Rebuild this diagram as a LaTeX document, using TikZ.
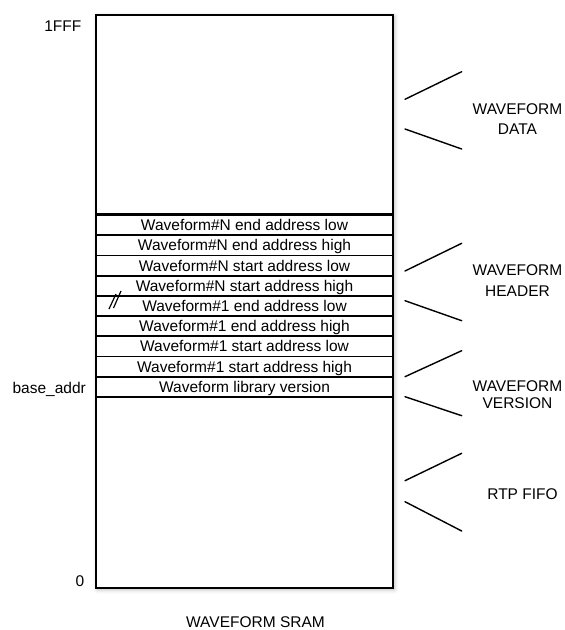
\documentclass[tikz,border=0pt]{standalone}
\usepackage{fontspec}
\setmainfont{Liberation Sans}
\usetikzlibrary{shadows.blur}
\newcommand{\figfont}{\fontsize{15.5}{18}\selectfont}
\begin{document}
\begin{tikzpicture}[x=1pt,y=-1pt,
  box/.style={draw=black, line width=1.8pt, fill=white, inner sep=0pt, minimum width=297pt},
  rowbox/.style={box, minimum height=20.2pt, text height=11.1pt, text depth=0pt, font=\figfont},
  pointer/.style={line width=1.4pt, black, line cap=round},
  lbl/.style={font=\figfont, inner sep=0pt, text height=11.1pt, text depth=0pt},
  basel/.style={font=\figfont, inner sep=0pt}]
\useasboundingbox (0,0) rectangle (565,630);
% soft shadow behind the memory stack
\path[fill=white, blur shadow={shadow xshift=1.5pt, shadow yshift=-1.5pt, shadow blur radius=4pt, shadow opacity=30}] (96,15) rectangle (393,588);
% boxes
\node[box, minimum height=198.5pt] (data) at (244.5,114.25) {};
\node[rowbox] (r1) at (244.5,225.1) {Waveform\#N end address low};
\node[rowbox] (r2) at (244.5,245.3) {Waveform\#N end address high};
\node[rowbox] (r3) at (244.5,265.5) {Waveform\#N start address low};
\node[rowbox] (r4) at (244.5,285.7) {Waveform\#N start address high};
\node[rowbox] (r5) at (244.5,305.9) {Waveform\#1 end address low};
\node[rowbox] (r6) at (244.5,326.1) {Waveform\#1 end address high};
\node[rowbox] (r7) at (244.5,346.3) {Waveform\#1 start address low};
\node[rowbox] (r8) at (244.5,366.5) {Waveform\#1 start address high};
\node[rowbox] (r9) at (244.5,386.7) {Waveform library version};
\node[box, minimum height=191.2pt] (fifo) at (244.5,492.4) {};
% break mark
\draw[line width=1.2pt] (109,309) -- (116,294);
\draw[line width=1.2pt] (113.5,308) -- (121,291);
% left address labels
\node[basel, anchor=base east] (top) at (81.5,31.7) {1FFF};
\node[basel, anchor=base east] (base) at (86,393.5) {base\_addr};
\node[basel, anchor=base east] (zero) at (84.5,586.5) {0};
% bottom title
\node[basel, anchor=base] (title) at (255.5,627.5) {WAVEFORM SRAM};
% right labels
\node[lbl] (dataA) at (517.5,109.2) {WAVEFORM};
\node[lbl] (dataB) at (517.5,128.8) {DATA};
\node[lbl] (hdrA) at (517.5,269.5) {WAVEFORM};
\node[lbl] (hdrB) at (517.5,290.8) {HEADER};
\node[lbl] (verA) at (517.5,385.8) {WAVEFORM};
\node[lbl] (verB) at (517.5,402.5) {VERSION};
\node[lbl] (rtp) at (522.5,493.8) {RTP FIFO};
% pointer lines
\coordinate (d1a) at (405,99.3);  \coordinate (d1b) at (461.7,71.7);
\coordinate (d2a) at (405,129);   \coordinate (d2b) at (461.7,149);
\coordinate (h1a) at (405,271);   \coordinate (h1b) at (461.7,243.3);
\coordinate (h2a) at (405,300.7); \coordinate (h2b) at (461.7,320.7);
\coordinate (v1a) at (405,376.7); \coordinate (v1b) at (461.7,350.7);
\coordinate (v2a) at (405,396.7); \coordinate (v2b) at (461.7,415.7);
\coordinate (f1a) at (405,480.7); \coordinate (f1b) at (461.7,453.3);
\coordinate (f2a) at (405,501.7); \coordinate (f2b) at (461.7,531);
\draw[pointer] (d1a) -- (d1b);
\draw[pointer] (d2a) -- (d2b);
\draw[pointer] (h1a) -- (h1b);
\draw[pointer] (h2a) -- (h2b);
\draw[pointer] (v1a) -- (v1b);
\draw[pointer] (v2a) -- (v2b);
\draw[pointer] (f1a) -- (f1b);
\draw[pointer] (f2a) -- (f2b);
\end{tikzpicture}
\end{document}
